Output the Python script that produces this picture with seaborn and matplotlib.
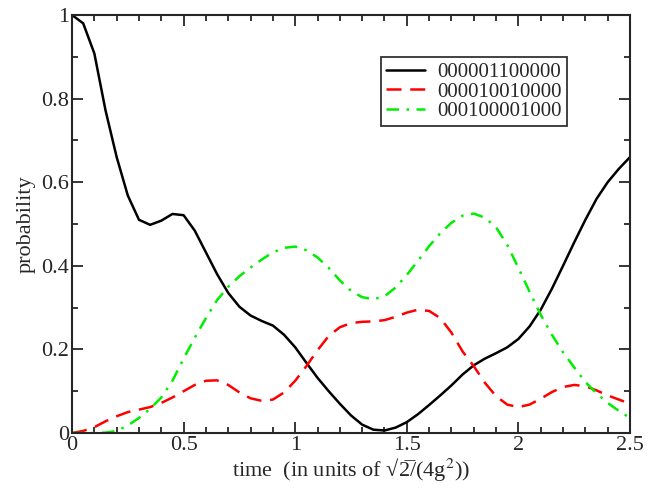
import numpy as np
import pandas as pd
import matplotlib
matplotlib.use("Agg")
import matplotlib.pyplot as plt
from matplotlib.ticker import MultipleLocator, FormatStrFormatter
import seaborn as sns

# time grid and probabilities
time = [0.00, 0.05, 0.10, 0.15, 0.20, 0.25, 0.30, 0.35, 0.40, 0.45,
        0.50, 0.55, 0.60, 0.65, 0.70, 0.75, 0.80, 0.85, 0.90, 0.95,
        1.00, 1.05, 1.10, 1.15, 1.20, 1.25, 1.30, 1.35, 1.40, 1.45,
        1.50, 1.55, 1.60, 1.65, 1.70, 1.75, 1.80, 1.85, 1.90, 1.95,
        2.00, 2.05, 2.10, 2.15, 2.20, 2.25, 2.30, 2.35, 2.40, 2.45, 2.50]

p_000001100000 = [1.000, 0.980, 0.908, 0.772, 0.660, 0.568, 0.510, 0.498, 0.508, 0.524,
                  0.521, 0.484, 0.432, 0.380, 0.335, 0.302, 0.281, 0.268, 0.257, 0.235,
                  0.205, 0.168, 0.132, 0.100, 0.070, 0.042, 0.020, 0.008, 0.006, 0.013,
                  0.026, 0.045, 0.067, 0.090, 0.114, 0.140, 0.162, 0.178, 0.191, 0.205,
                  0.225, 0.255, 0.295, 0.345, 0.400, 0.456, 0.510, 0.560, 0.600, 0.632, 0.660]

p_000010010000 = [0.000, 0.005, 0.014, 0.028, 0.040, 0.050, 0.056, 0.062, 0.072, 0.085,
                  0.100, 0.115, 0.125, 0.126, 0.115, 0.097, 0.083, 0.077, 0.080, 0.097,
                  0.125, 0.160, 0.198, 0.232, 0.253, 0.263, 0.266, 0.267, 0.270, 0.278,
                  0.288, 0.295, 0.292, 0.275, 0.240, 0.195, 0.160, 0.120, 0.088, 0.068,
                  0.062, 0.068, 0.082, 0.098, 0.110, 0.115, 0.112, 0.102, 0.090, 0.080, 0.070]

p_000100001000 = [0.000, 0.000, 0.000, 0.001, 0.005, 0.018, 0.036, 0.058, 0.085, 0.125,
                  0.178, 0.228, 0.275, 0.318, 0.350, 0.375, 0.396, 0.415, 0.432, 0.443,
                  0.446, 0.437, 0.420, 0.395, 0.365, 0.340, 0.325, 0.320, 0.327, 0.348,
                  0.378, 0.412, 0.447, 0.478, 0.503, 0.520, 0.525, 0.515, 0.492, 0.450,
                  0.395, 0.338, 0.283, 0.235, 0.193, 0.157, 0.122, 0.095, 0.072, 0.053, 0.036]

labels = ["000001100000", "000010010000", "000100001000"]

sns.set_style("ticks")
plt.rcParams['font.family'] = ['Liberation Serif', 'DejaVu Serif']
plt.rcParams['mathtext.fontset'] = 'stix'

fig = plt.figure(figsize=(6.59, 4.91), dpi=100)
ax = fig.add_axes([0.1093, 0.1181, 0.8467, 0.8514])

df = pd.DataFrame({"time": time, labels[0]: p_000001100000,
                   labels[1]: p_000010010000, labels[2]: p_000100001000})

sns.lineplot(data=df, x="time", y=labels[0], color="black", linewidth=1.8,
             label=labels[0], ax=ax)
sns.lineplot(data=df, x="time", y=labels[1], color="red", linewidth=1.8,
             label=labels[1], ax=ax)
sns.lineplot(data=df, x="time", y=labels[2], color="#00ee00", linewidth=1.8,
             label=labels[2], ax=ax)
for ln in ax.lines:
    ln.set_solid_joinstyle("round")
    ln.set_dash_joinstyle("round")
ax.lines[1].set_dashes([6, 3.5])
ax.lines[2].set_dashes([5, 3, 1, 3])

ax.set_xlim(0, 2.5)
ax.set_ylim(0, 1)
ax.xaxis.set_major_locator(MultipleLocator(0.5))
ax.xaxis.set_minor_locator(MultipleLocator(0.1))
ax.yaxis.set_major_locator(MultipleLocator(0.2))
ax.yaxis.set_minor_locator(MultipleLocator(0.1))
ax.xaxis.set_major_formatter(FormatStrFormatter("%g"))
ax.yaxis.set_major_formatter(FormatStrFormatter("%g"))
ax.tick_params(which="both", direction="in", top=True, right=True,
               labelsize=16, width=1.3, pad=2)
ax.tick_params(which="major", length=8)
ax.tick_params(which="minor", length=4.5)
for s in ax.spines.values():
    s.set_linewidth(1.5)
    s.set_visible(True)

ax.set_xlabel("time  (in units of \u221a2\u0305/(4g$^2$))", fontsize=16, labelpad=1)
ax.set_ylabel("probability", fontsize=16, labelpad=4)

leg = ax.legend(loc="upper left", bbox_to_anchor=(0.553, 0.899), borderaxespad=0,
                fontsize=15, frameon=True, fancybox=False, edgecolor="black",
                handlelength=1.9, handletextpad=0.55, labelspacing=0.0,
                borderpad=0.25)
leg.get_frame().set_linewidth(1.3)

fig.savefig("out.png", dpi=100)
